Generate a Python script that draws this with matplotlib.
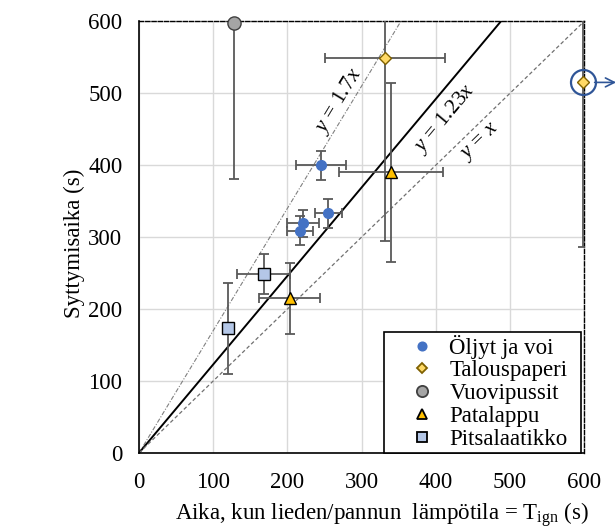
import numpy as np
import matplotlib.pyplot as plt
from matplotlib.lines import Line2D
from matplotlib.patches import Rectangle

plt.rcParams['font.family'] = ['Liberation Serif', 'DejaVu Serif']
plt.rcParams['mathtext.fontset'] = 'custom'
plt.rcParams['mathtext.rm'] = 'Liberation Serif'
plt.rcParams['mathtext.it'] = 'Liberation Serif:italic'

# data (seconds)
oljyt_x = [245, 255, 221, 217]
oljyt_y = [400, 333, 319, 309]
oljyt_xerr = [34, 18, 21, 18]
oljyt_yerr = [20, 20, 19, 20]

talous_x = [332, 598]
talous_y = [549, 515]
talous_xerr = [81, 0]
talous_yerr = [255, 229]

vuovi_x = [128]
vuovi_y = [598]
vuovi_xerr = [0]
vuovi_yerr = [217]

pata_x = [203, 339]
pata_y = [215, 390]
pata_xerr = [41, 70]
pata_yerr = [49, 124]

pitsa_x = [168, 120]
pitsa_y = [249, 173]
pitsa_xerr = [36, 0]
pitsa_yerr = [28, 63]

slopes = [1.7, 1.23, 1.0]
ticks = [0, 100, 200, 300, 400, 500, 600]

fig = plt.figure(figsize=(6.15, 5.31), dpi=100)
ax = fig.add_axes([0.226, 0.147, 0.724, 0.813])
ax.set_xlim(0, 600)
ax.set_ylim(0, 600)

ax.grid(True, color='#d9d9d9', lw=1)
ax.set_axisbelow(True)

xx = np.array([0, 600])
ax.plot(xx, slopes[0]*xx, color='#808080', lw=0.8, dashes=(4, 1.5, 1, 1.5), zorder=2)
ax.plot(xx, slopes[1]*xx, color='black', lw=1.4, zorder=2)
ax.plot(xx, slopes[2]*xx, color='#707070', lw=0.9, dashes=(3, 2), zorder=2)

lab_kw = dict(fontsize=15.5, ha='center', va='center', rotation_mode='anchor',
              transform_rotates_text=True)
ax.text(270, 489, r'$y$ = 1.7$x$', rotation=np.degrees(np.arctan(slopes[0])), **lab_kw)
ax.text(412, 464, r'$y$ = 1.23$x$', rotation=np.degrees(np.arctan(slopes[1])), **lab_kw)
ax.text(460, 432, r'$y$ = $x$', rotation=np.degrees(np.arctan(slopes[2])), **lab_kw)

series = [
    ('Öljyt ja voi', oljyt_x, oljyt_y, oljyt_xerr, oljyt_yerr, 'o', 7, '#4472c4', '#4472c4'),
    ('Talouspaperi', talous_x, talous_y, talous_xerr, talous_yerr, 'D', 6.5, '#ffd966', '#7f6000'),
    ('Vuovipussit', vuovi_x, vuovi_y, vuovi_xerr, vuovi_yerr, 'o', 9.5, '#a5a5a5', '#404040'),
    ('Patalappu', pata_x, pata_y, pata_xerr, pata_yerr, '^', 8, '#ffc000', '#000000'),
    ('Pitsalaatikko', pitsa_x, pitsa_y, pitsa_xerr, pitsa_yerr, 's', 8.5, '#b4c7e7', '#000000'),
]

handles = []
for name, x, y, xe, ye, m, ms, fc, ec in series:
    ax.errorbar(x, y, xerr=xe, yerr=ye, fmt='none', ecolor='#595959',
                elinewidth=1.3, capsize=3.5, capthick=1.3, zorder=3)
    ax.plot(x, y, ls='none', marker=m, ms=ms, mfc=fc, mec=ec, mew=1,
            clip_on=False, zorder=5)
    handles.append(Line2D([], [], ls='none', marker=m, ms=ms*0.85, mfc=fc,
                          mec=ec, mew=1.3, label=name))

# highlight of the point beyond the axis
ax.plot(talous_x[1], talous_y[1], marker='o', ms=18, mfc='none', mec='#2f5597',
        mew=1.6, clip_on=False, zorder=6)
ax.annotate('', xy=(643, talous_y[1]), xytext=(614, talous_y[1]),
            arrowprops=dict(arrowstyle='->', color='#2f5597', lw=1.2,
                            mutation_scale=16, shrinkA=0, shrinkB=0),
            annotation_clip=False)

for s in ['top', 'right']:
    ax.spines[s].set_linestyle((0, (3, 1.5)))
    ax.spines[s].set_linewidth(1)
for s in ['left', 'bottom']:
    ax.spines[s].set_linewidth(1.2)

ax.set_xticks(ticks)
ax.set_yticks(ticks)
ax.tick_params(length=0, labelsize=16.5)
ax.tick_params(axis='x', pad=14)
ax.tick_params(axis='y', pad=12)

ax.set_xlabel(r'Aika, kun lieden/pannun  lämpötila = T$_{\mathrm{ign}}$ (s)',
              fontsize=16.5, labelpad=5, x=0.545)
ax.set_ylabel('Syttymisaika (s)', fontsize=16.5, labelpad=2, y=0.485)

# legend frame drawn as a box, legend itself without frame
ax.add_patch(Rectangle((0.551, 0.0), 0.442, 0.28, transform=ax.transAxes,
                       facecolor='white', edgecolor='black', lw=1.2,
                       zorder=6, clip_on=False))
leg = ax.legend(handles=handles, loc='lower right', fontsize=16.5,
                frameon=False, bbox_to_anchor=(0.965, 0.004),
                borderaxespad=0, labelspacing=0.08,
                handletextpad=0.38, borderpad=0.05, handlelength=1.6)
leg.set_zorder(7)

fig.savefig('out.png', dpi=100)
